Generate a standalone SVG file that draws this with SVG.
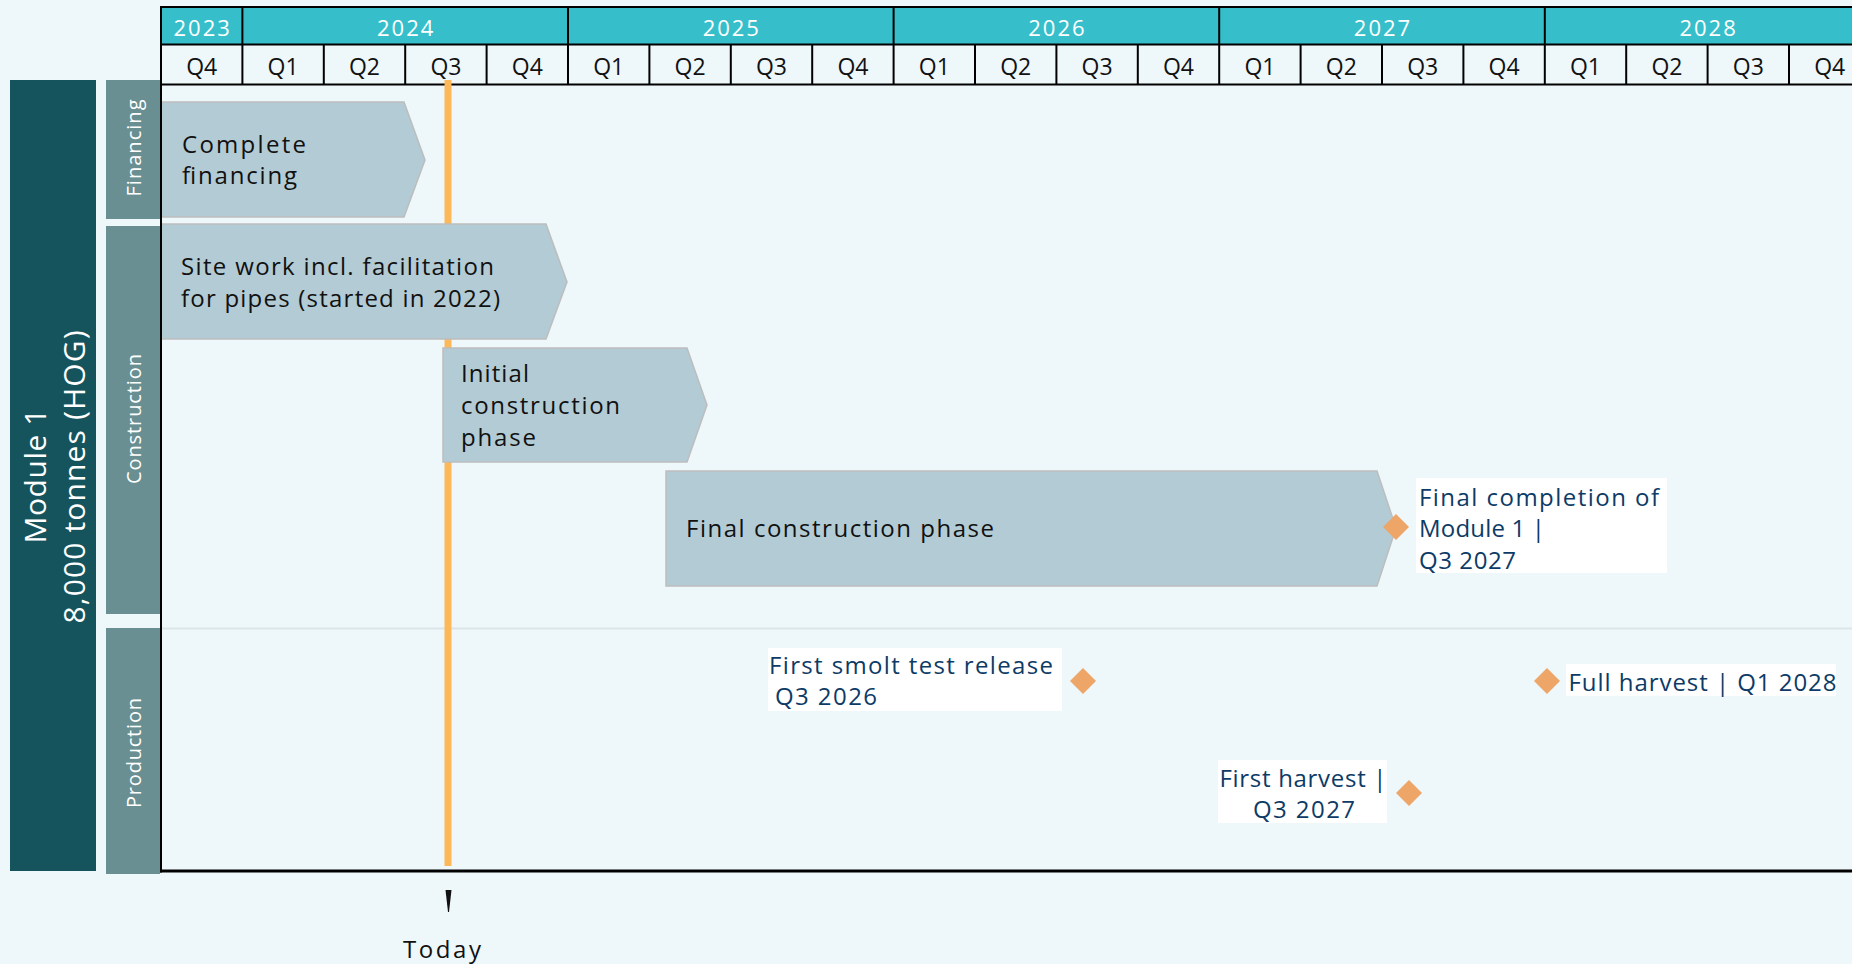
<svg xmlns="http://www.w3.org/2000/svg" width="1852" height="964" viewBox="0 0 1852 964">
<style>
.yr{font-family:"Open Sans",Lato,sans-serif;font-size:22px;font-weight:500;fill:#ffffff;text-anchor:middle;letter-spacing:2px}
.qt{font-family:"Open Sans",Lato,sans-serif;font-size:23px;font-weight:500;fill:#111111;text-anchor:middle}
.lane{font-family:"Open Sans",Lato,sans-serif;font-size:20px;fill:#ffffff;text-anchor:middle}
.mod{font-family:"Open Sans",Lato,sans-serif;font-size:30px;font-weight:500;fill:#ffffff;text-anchor:middle}
.bar{fill:#B3CBD4;stroke:#BDBDBD;stroke-width:1.5}
.bt{font-family:"Open Sans",Lato,sans-serif;font-size:24px;font-weight:500;fill:#111111}
.mt{font-family:"Open Sans",Lato,sans-serif;font-size:24px;font-weight:500;fill:#0D3B66}
.box{fill:#ffffff}
.dia{fill:#EDA668}
.grid{stroke:#000000;stroke-width:2;fill:none}
</style>
<rect x="0" y="0" width="1852" height="964" fill="#EEF7F9"/>

<g id="header">
<rect x="161" y="7" width="1720" height="37.5" fill="#36BFCA"/>
<g class="grid">
<line x1="160" y1="7" x2="1852" y2="7"/>
<line x1="160" y1="44.5" x2="1852" y2="44.5"/>
<line x1="160" y1="84.5" x2="1852" y2="84.5"/>
<line x1="242.4" y1="7" x2="242.4" y2="85"/>
<line x1="568" y1="7" x2="568" y2="85"/>
<line x1="893.6" y1="7" x2="893.6" y2="85"/>
<line x1="1219.2" y1="7" x2="1219.2" y2="85"/>
<line x1="1544.8" y1="7" x2="1544.8" y2="85"/>
<line x1="323.8" y1="44.5" x2="323.8" y2="85"/>
<line x1="405.2" y1="44.5" x2="405.2" y2="85"/>
<line x1="486.6" y1="44.5" x2="486.6" y2="85"/>
<line x1="649.4" y1="44.5" x2="649.4" y2="85"/>
<line x1="730.8" y1="44.5" x2="730.8" y2="85"/>
<line x1="812.2" y1="44.5" x2="812.2" y2="85"/>
<line x1="975" y1="44.5" x2="975" y2="85"/>
<line x1="1056.4" y1="44.5" x2="1056.4" y2="85"/>
<line x1="1137.8" y1="44.5" x2="1137.8" y2="85"/>
<line x1="1300.6" y1="44.5" x2="1300.6" y2="85"/>
<line x1="1382" y1="44.5" x2="1382" y2="85"/>
<line x1="1463.4" y1="44.5" x2="1463.4" y2="85"/>
<line x1="1626.2" y1="44.5" x2="1626.2" y2="85"/>
<line x1="1707.6" y1="44.5" x2="1707.6" y2="85"/>
<line x1="1789" y1="44.5" x2="1789" y2="85"/>
</g>
<text class="yr" x="202.7" y="36">2023</text>
<text class="yr" x="406.2" y="36">2024</text>
<text class="yr" x="731.8" y="36">2025</text>
<text class="yr" x="1057.4" y="36">2026</text>
<text class="yr" x="1383" y="36">2027</text>
<text class="yr" x="1708.6" y="36">2028</text>
<text class="qt" x="201.7" y="75">Q4</text>
<text class="qt" x="283.1" y="75">Q1</text>
<text class="qt" x="364.5" y="75">Q2</text>
<text class="qt" x="445.9" y="75">Q3</text>
<text class="qt" x="527.3" y="75">Q4</text>
<text class="qt" x="608.7" y="75">Q1</text>
<text class="qt" x="690.1" y="75">Q2</text>
<text class="qt" x="771.5" y="75">Q3</text>
<text class="qt" x="852.9" y="75">Q4</text>
<text class="qt" x="934.3" y="75">Q1</text>
<text class="qt" x="1015.7" y="75">Q2</text>
<text class="qt" x="1097.1" y="75">Q3</text>
<text class="qt" x="1178.5" y="75">Q4</text>
<text class="qt" x="1259.9" y="75">Q1</text>
<text class="qt" x="1341.3" y="75">Q2</text>
<text class="qt" x="1422.7" y="75">Q3</text>
<text class="qt" x="1504.1" y="75">Q4</text>
<text class="qt" x="1585.5" y="75">Q1</text>
<text class="qt" x="1666.9" y="75">Q2</text>
<text class="qt" x="1748.3" y="75">Q3</text>
<text class="qt" x="1829.7" y="75">Q4</text>
</g>

<g id="module-label">
<rect x="10" y="80" width="86" height="791" fill="#16545D"/>
<text class="mod" transform="translate(46,476) rotate(-90)" textLength="135">Module 1</text>
<text class="mod" transform="translate(85,477) rotate(-90)" textLength="293">8,000 tonnes (HOG)</text>
</g>

<g id="lane-financing">
<rect x="106" y="80" width="54" height="139" fill="#698F92"/>
<text class="lane" transform="translate(141,148) rotate(-90)" textLength="97">Financing</text>
</g>
<g id="lane-construction">
<rect x="106" y="226" width="54" height="388" fill="#698F92"/>
<text class="lane" transform="translate(141,419) rotate(-90)" textLength="130">Construction</text>
</g>
<g id="lane-production">
<rect x="106" y="628" width="54" height="246" fill="#698F92"/>
<text class="lane" transform="translate(141,753) rotate(-90)" textLength="110">Production</text>
</g>

<line x1="161" y1="628.5" x2="1852" y2="628.5" stroke="#DCE5E8" stroke-width="2"/>

<g id="today-line">
<rect x="444.5" y="80" width="7" height="786" fill="#FDB859"/>
</g>

<g id="bar-complete-financing">
<polygon class="bar" points="161,102 404,102 425,160 404,217 161,217"/>
<text class="bt" x="182" y="153" textLength="124">Complete</text>
<text class="bt" x="182" y="184" textLength="115">financing</text>
</g>

<g id="bar-site-work">
<polygon class="bar" points="161,224 546,224 567,282 546,339 161,339"/>
<text class="bt" x="181" y="275" textLength="313">Site work incl. facilitation</text>
<text class="bt" x="181" y="307" textLength="319">for pipes (started in 2022)</text>
</g>

<g id="bar-initial-construction">
<polygon class="bar" points="443,348 687,348 707,405 687,462 443,462"/>
<text class="bt" x="461" y="382" textLength="68">Initial</text>
<text class="bt" x="461" y="414" textLength="159">construction</text>
<text class="bt" x="461" y="446" textLength="75">phase</text>
</g>

<g id="bar-final-construction">
<polygon class="bar" points="666,471 1377,471 1396,528 1377,586 666,586"/>
<text class="bt" x="686" y="537" textLength="308">Final construction phase</text>
</g>

<g id="milestone-final-completion">
<polygon class="dia" points="1396,514 1409,527 1396,540 1383,527"/>
<rect class="box" x="1416" y="478" width="251" height="95"/>
<text class="mt" x="1419" y="506" textLength="240">Final completion of</text>
<text class="mt" x="1419" y="537" textLength="126">Module 1 |</text>
<text class="mt" x="1419" y="569" textLength="97">Q3 2027</text>
</g>

<g id="milestone-smolt-release">
<rect class="box" x="768" y="648" width="294" height="63"/>
<text class="mt" x="769" y="674" textLength="284">First smolt test release</text>
<text class="mt" x="775" y="705" textLength="102">Q3 2026</text>
<polygon class="dia" points="1083,668 1096,681 1083,694 1070,681"/>
</g>

<g id="milestone-full-harvest">
<polygon class="dia" points="1547,668 1560,681 1547,694 1534,681"/>
<rect class="box" x="1566" y="664" width="270" height="32"/>
<text class="mt" x="1568.5" y="691" textLength="268">Full harvest | Q1 2028</text>
</g>

<g id="milestone-first-harvest">
<rect class="box" x="1218" y="760" width="169" height="63"/>
<text class="mt" x="1303" y="787" text-anchor="middle" textLength="167">First harvest |</text>
<text class="mt" x="1304" y="818" text-anchor="middle" textLength="102">Q3 2027</text>
<polygon class="dia" points="1409,780 1422,793 1409,806 1396,793"/>
</g>

<g id="chart-frame" class="grid">
<line x1="161" y1="7" x2="161" y2="872.5"/>
<line x1="160" y1="871" x2="1852" y2="871" stroke-width="3"/>
</g>

<g id="today-marker">
<polygon points="445.5,890 451.5,890 449,912 448,912" fill="#111111"/>
<text class="bt" x="442" y="958" text-anchor="middle" textLength="78">Today</text>
</g>

<g id="connectors"></g>
</svg>
